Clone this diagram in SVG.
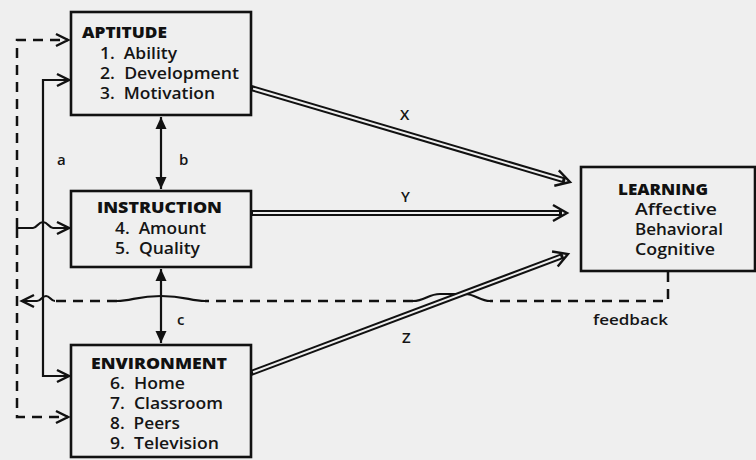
<svg xmlns="http://www.w3.org/2000/svg" width="756" height="460" viewBox="0 0 756 460">
<style>
.box{fill:none;stroke:#111;stroke-width:2.6}
text{font-family:"Open Sans","Noto Sans",sans-serif;white-space:pre}
.t{font-size:15.5px;font-weight:600;fill:#151515}
.h{font-size:15.5px;font-weight:800;fill:#111}
.lbl{font-size:15px;font-weight:600;fill:#151515}
.ln{fill:none;stroke:#111;stroke-width:2.2}
.dash{fill:none;stroke:#111;stroke-width:2.5;stroke-dasharray:10 7}
.dbl{fill:none;stroke:#111;stroke-width:6}
.gap{fill:none;stroke:#efefef;stroke-width:2}
</style>
<defs>
<marker id="open" markerUnits="userSpaceOnUse" orient="auto" overflow="visible" markerWidth="14" markerHeight="14" refX="0" refY="0">
<path d="M-12,-6 L0,0 L-12,6" fill="none" stroke="#111" stroke-width="2.5"/>
</marker>
<marker id="chev" markerUnits="userSpaceOnUse" orient="auto" overflow="visible" markerWidth="16" markerHeight="16" refX="0" refY="0">
<path d="M-9,-8 L5,0 L-9,8" fill="none" stroke="#111" stroke-width="2.4"/>
</marker>
<marker id="tri" markerUnits="userSpaceOnUse" orient="auto-start-reverse" overflow="visible" markerWidth="14" markerHeight="14" refX="0" refY="0">
<path d="M-12,-5.5 L0,0 L-12,5.5 Z" fill="#111"/>
</marker>
</defs>
<rect width="756" height="460" fill="#efefef"/>

<g id="connectors">
<path class="dash" d="M17,228 V40 H68" marker-end="url(#open)"/>
<path class="dash" d="M17,228 V417 H68" marker-end="url(#open)"/>
<path class="ln" d="M43,228 V80 H69" marker-end="url(#open)"/>
<path class="ln" d="M43,228 V376 H69" marker-end="url(#open)"/>
<path class="ln" d="M17,228 H33 C37,228 38,222 43,222 C48,222 49,228 53,228 H69" marker-end="url(#open)"/>
<path class="ln" d="M161,117 V189" marker-start="url(#tri)" marker-end="url(#tri)"/>
<path class="ln" d="M161,269 V343" marker-start="url(#tri)" marker-end="url(#tri)"/>
<path class="dash" d="M668,272 V301 H490"/>
<path class="ln" d="M490,301 C480,301 475,294 465,294 H440 C428,294 425,301 413,301"/>
<path class="dash" d="M413,301 H205"/>
<path class="ln" d="M205,301 C190,301 185,296 161,296 C137,296 132,301 117,301"/>
<path class="dash" d="M117,301 H55"/>
<path class="ln" d="M55,301 C51,301 50,296 46,296 C42,296 41,301 37,301 H22" marker-end="url(#open)"/>
<path class="dbl" d="M251,88 L565.2,180.6" marker-end="url(#chev)"/>
<path class="gap" d="M253,88.6 L562.3,179.7"/>
<path class="dbl" d="M251,213 L562,213" marker-end="url(#chev)"/>
<path class="gap" d="M253,213 L559,213"/>
<path class="dbl" d="M251,373 L563.3,255.8" marker-end="url(#chev)"/>
<path class="gap" d="M253,372.2 L560.5,256.8"/>
<text class="lbl" x="57" y="165">a</text>
<text class="lbl" x="179" y="165">b</text>
<text class="lbl" x="177" y="325">c</text>
<text class="lbl" x="400" y="120">X</text>
<text class="lbl" x="401" y="202">Y</text>
<text class="lbl" x="402" y="343">Z</text>
<text class="lbl" x="593" y="325" textLength="75" lengthAdjust="spacingAndGlyphs">feedback</text>
</g>

<g id="aptitude">
<rect class="box" x="71" y="12" width="180" height="103"/>
<text><tspan class="h" x="82" y="38" textLength="85" lengthAdjust="spacingAndGlyphs">APTITUDE</tspan><tspan class="t" x="100" y="59" textLength="77" lengthAdjust="spacingAndGlyphs">1.  Ability</tspan><tspan class="t" x="100" y="79" textLength="139" lengthAdjust="spacingAndGlyphs">2.  Development</tspan><tspan class="t" x="100" y="99" textLength="115" lengthAdjust="spacingAndGlyphs">3.  Motivation</tspan></text>
</g>

<g id="instruction">
<rect class="box" x="71" y="191" width="180" height="76"/>
<text><tspan class="h" x="97" y="213" textLength="125" lengthAdjust="spacingAndGlyphs">INSTRUCTION</tspan><tspan class="t" x="115" y="234" textLength="91" lengthAdjust="spacingAndGlyphs">4.  Amount</tspan><tspan class="t" x="115" y="254" textLength="85" lengthAdjust="spacingAndGlyphs">5.  Quality</tspan></text>
</g>

<g id="environment">
<rect class="box" x="71" y="345" width="180" height="112"/>
<text><tspan class="h" x="91" y="369" textLength="136" lengthAdjust="spacingAndGlyphs">ENVIRONMENT</tspan><tspan class="t" x="110" y="389" textLength="75" lengthAdjust="spacingAndGlyphs">6.  Home</tspan><tspan class="t" x="110" y="409" textLength="113" lengthAdjust="spacingAndGlyphs">7.  Classroom</tspan><tspan class="t" x="110" y="429" textLength="70" lengthAdjust="spacingAndGlyphs">8.  Peers</tspan><tspan class="t" x="110" y="449" textLength="109" lengthAdjust="spacingAndGlyphs">9.  Television</tspan></text>
</g>

<g id="learning">
<rect class="box" x="581" y="167" width="174" height="104"/>
<text><tspan class="h" x="618" y="195" textLength="90" lengthAdjust="spacingAndGlyphs">LEARNING</tspan><tspan class="t" x="635" y="215" textLength="82" lengthAdjust="spacingAndGlyphs">Affective</tspan><tspan class="t" x="635" y="235" textLength="88" lengthAdjust="spacingAndGlyphs">Behavioral</tspan><tspan class="t" x="635" y="255" textLength="80" lengthAdjust="spacingAndGlyphs">Cognitive</tspan></text>
</g>
</svg>
